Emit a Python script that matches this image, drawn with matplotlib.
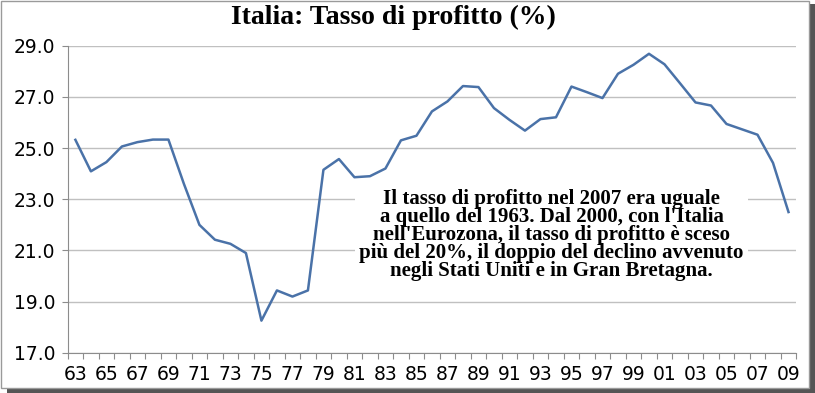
import matplotlib
matplotlib.use("Agg")
import matplotlib.pyplot as plt
from matplotlib.patches import Rectangle
import numpy as np

years = list(range(1963, 2010))
tasso = [25.32, 24.09, 24.45, 25.06, 25.23, 25.33, 25.33, 23.6, 22.0, 21.42,
         21.26, 20.9, 18.26, 19.44, 19.2, 19.44, 24.15, 24.57, 23.86, 23.9,
         24.2, 25.3, 25.48, 26.43, 26.82, 27.42, 27.38, 26.56, 26.1, 25.68,
         26.13, 26.2, 27.4, 27.18, 26.95, 27.9, 28.25, 28.68, 28.27, 27.53,
         26.78, 26.66, 25.94, 25.73, 25.52, 24.42, 22.5]
etichette = ["%02d" % (y % 100) for y in years]
yticks = [17, 19, 21, 23, 25, 27, 29]

titolo = "Italia: Tasso di profitto (%)"
nota = ("Il tasso di profitto nel 2007 era uguale\n"
        "a quello del 1963. Dal 2000, con l'Italia\n"
        "nell'Eurozona, il tasso di profitto è sceso\n"
        "più del 20%, il doppio del declino avvenuto\n"
        "negli Stati Uniti e in Gran Bretagna.")

fig = plt.figure(figsize=(8.15, 3.93), dpi=100)
ax = fig.add_axes([0.083, 0.102, 0.894, 0.782])

x = np.arange(len(years))
ax.plot(x, tasso, color="#4a72a8", lw=1.8, zorder=3)

ax.set_xlim(-0.5, len(years) - 0.5)
ax.set_ylim(17, 29)
ax.set_yticks(yticks)
ax.set_yticklabels(["%.1f" % v for v in yticks])
ax.set_xticks(x[::2])
ax.set_xticklabels(etichette[::2])
ax.set_xticks(np.arange(-0.5, len(years)), minor=True)
ax.tick_params(axis="x", which="major", length=0, pad=9, labelsize=13.5)
ax.tick_params(axis="x", which="minor", length=4, color="#8c8c8c", width=0.8)
ax.tick_params(axis="y", length=4, color="#8c8c8c", width=0.8, pad=5, labelsize=13.5)

ax.grid(axis="y", color="#c0c0c0", lw=1)
ax.set_axisbelow(True)
for s in ["top", "right"]:
    ax.spines[s].set_visible(False)
for s in ["left", "bottom"]:
    ax.spines[s].set_color("#8c8c8c")
    ax.spines[s].set_linewidth(0.8)

fig.text(0.483, 0.955, titolo, ha="center", va="center",
         family="Liberation Serif", weight="bold", fontsize=20)

ax.text(0.664, 0.384, nota, transform=ax.transAxes, ha="center", va="center",
        family="Liberation Serif", weight="bold", fontsize=15, linespacing=0.86,
        bbox=dict(facecolor="white", edgecolor="none", pad=3), zorder=4)

# cornice con ombra
fig.patches.append(Rectangle((0.008, 0.0), 0.992, 0.99, transform=fig.transFigure,
                             facecolor="#555555", edgecolor="none", zorder=-2))
fig.patches.append(Rectangle((0.001, 0.012), 0.992, 0.986, transform=fig.transFigure,
                             facecolor="white", edgecolor="#9a9a9a", lw=1, zorder=-1))

fig.savefig("out.png", dpi=100)
